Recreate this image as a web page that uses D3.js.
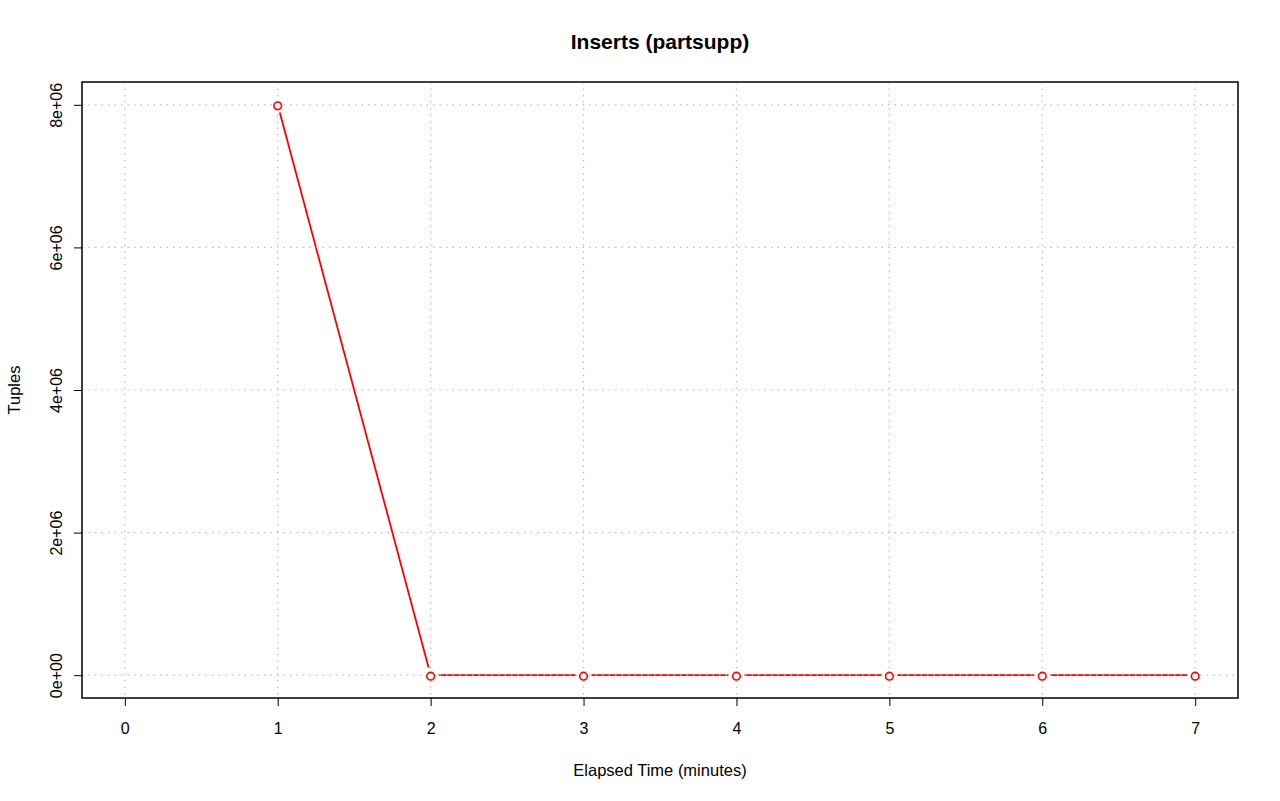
<!DOCTYPE html>
<html>
<head>
<meta charset="utf-8">
<script src="https://cdn.jsdelivr.net/npm/d3@7"></script>
<style>
  body { margin: 0; background: #fff; }
  svg { font-family: "Liberation Sans", Arial, sans-serif; }
</style>
</head>
<body>
<svg id="chart"></svg>
<script>
// data
var minutes = [1, 2, 3, 4, 5, 6, 7];
var tuples = [8000000, 0, 0, 0, 0, 0, 0];
var xTicks = [0, 1, 2, 3, 4, 5, 6, 7];
var yTicks = [0, 2000000, 4000000, 6000000, 8000000];
var yTickLabels = ["0e+00", "2e+06", "4e+06", "6e+06", "8e+06"];

(function lineChart() {
    var svg = d3.select("#chart").attr("width", 1280).attr("height", 801),
        margin = {top: 82, right: 42, bottom: 103, left: 82},
        width = 1280 - margin.left - margin.right,
        height = 801 - margin.top - margin.bottom,
        g = svg.append("g").attr("transform", "translate(" + margin.left + "," + margin.top + ")");

    // R style 4% padding on both ends
    var x = d3.scaleLinear().domain([-0.28, 7.28]).range([0, width]);
    var y = d3.scaleLinear().domain([-320000, 8320000]).range([height, 0]);

    var data = minutes.map(function (m, i) { return {x: m, y: tuples[i]}; });

    // line segments with gaps at the points (type "b")
    var gap = 8;
    var segs = [];
    for (var i = 0; i < data.length - 1; i++) {
        var x1 = x(data[i].x), y1 = y(data[i].y), x2 = x(data[i + 1].x), y2 = y(data[i + 1].y);
        var len = Math.sqrt((x2 - x1) * (x2 - x1) + (y2 - y1) * (y2 - y1));
        var ux = (x2 - x1) / len, uy = (y2 - y1) / len;
        segs.push([x1 + ux * gap, y1 + uy * gap, x2 - ux * gap, y2 - uy * gap]);
    }
    g.append("g").selectAll("line")
        .data(segs)
        .enter().append("line")
        .attr("x1", function (d) { return d[0]; })
        .attr("y1", function (d) { return d[1]; })
        .attr("x2", function (d) { return d[2]; })
        .attr("y2", function (d) { return d[3]; })
        .attr("stroke", "#ff0000")
        .attr("stroke-width", 1.8);

    // dotted grid on top of the line
    var grid = g.append("g").attr("stroke", "#bebebe").attr("stroke-width", 1.2)
        .attr("stroke-dasharray", "1.5,5");
    grid.selectAll(".gx").data(xTicks).enter().append("line")
        .attr("x1", function (d) { return x(d); }).attr("x2", function (d) { return x(d); })
        .attr("y1", 0).attr("y2", height);
    grid.selectAll(".gy").data(yTicks).enter().append("line")
        .attr("y1", function (d) { return y(d); }).attr("y2", function (d) { return y(d); })
        .attr("x1", 0).attr("x2", width);

    g.append("g").selectAll("circle")
        .data(data)
        .enter().append("circle")
        .attr("cx", function (d) { return x(d.x); })
        .attr("cy", function (d) { return y(d.y) + 1; })
        .attr("r", 3.8)
        .attr("fill", "#fff")
        .attr("stroke", "#ff0000")
        .attr("stroke-width", 1.6);

    // axes
    var xAxis = g.append("g")
        .attr("transform", "translate(0," + height + ")")
        .call(d3.axisBottom(x).tickValues(xTicks).tickSize(8).tickPadding(17).tickFormat(d3.format("d")));
    var yAxis = g.append("g")
        .call(d3.axisLeft(y).tickValues(yTicks).tickSize(8).tickPadding(0)
            .tickFormat(function (d, i) { return yTickLabels[i]; }));
    [xAxis, yAxis].forEach(function (a) {
        a.attr("font-size", 16).attr("font-family", null);
        a.select(".domain").remove();
        a.selectAll("line").attr("stroke", "#000").attr("stroke-width", 1);
        a.selectAll("text").attr("fill", "#000");
    });
    yAxis.selectAll("text")
        .attr("text-anchor", "middle")
        .attr("dy", 0)
        .attr("x", 0)
        .attr("transform", "translate(-20,0) rotate(-90)");

    g.append("rect")
        .attr("width", width)
        .attr("height", height)
        .attr("fill", "none")
        .attr("stroke", "#000")
        .attr("stroke-width", 1.5);

    svg.append("text")
        .attr("x", margin.left + width / 2)
        .attr("y", 49)
        .attr("text-anchor", "middle")
        .attr("font-size", 21)
        .attr("font-weight", "bold")
        .text("Inserts (partsupp)");

    svg.append("text")
        .attr("x", margin.left + width / 2)
        .attr("y", 776)
        .attr("text-anchor", "middle")
        .attr("font-size", 16.5)
        .text("Elapsed Time (minutes)");

    svg.append("text")
        .attr("transform", "translate(20," + (margin.top + height / 2) + ") rotate(-90)")
        .attr("text-anchor", "middle")
        .attr("font-size", 16.5)
        .text("Tuples");
}());
</script>
</body>
</html>
